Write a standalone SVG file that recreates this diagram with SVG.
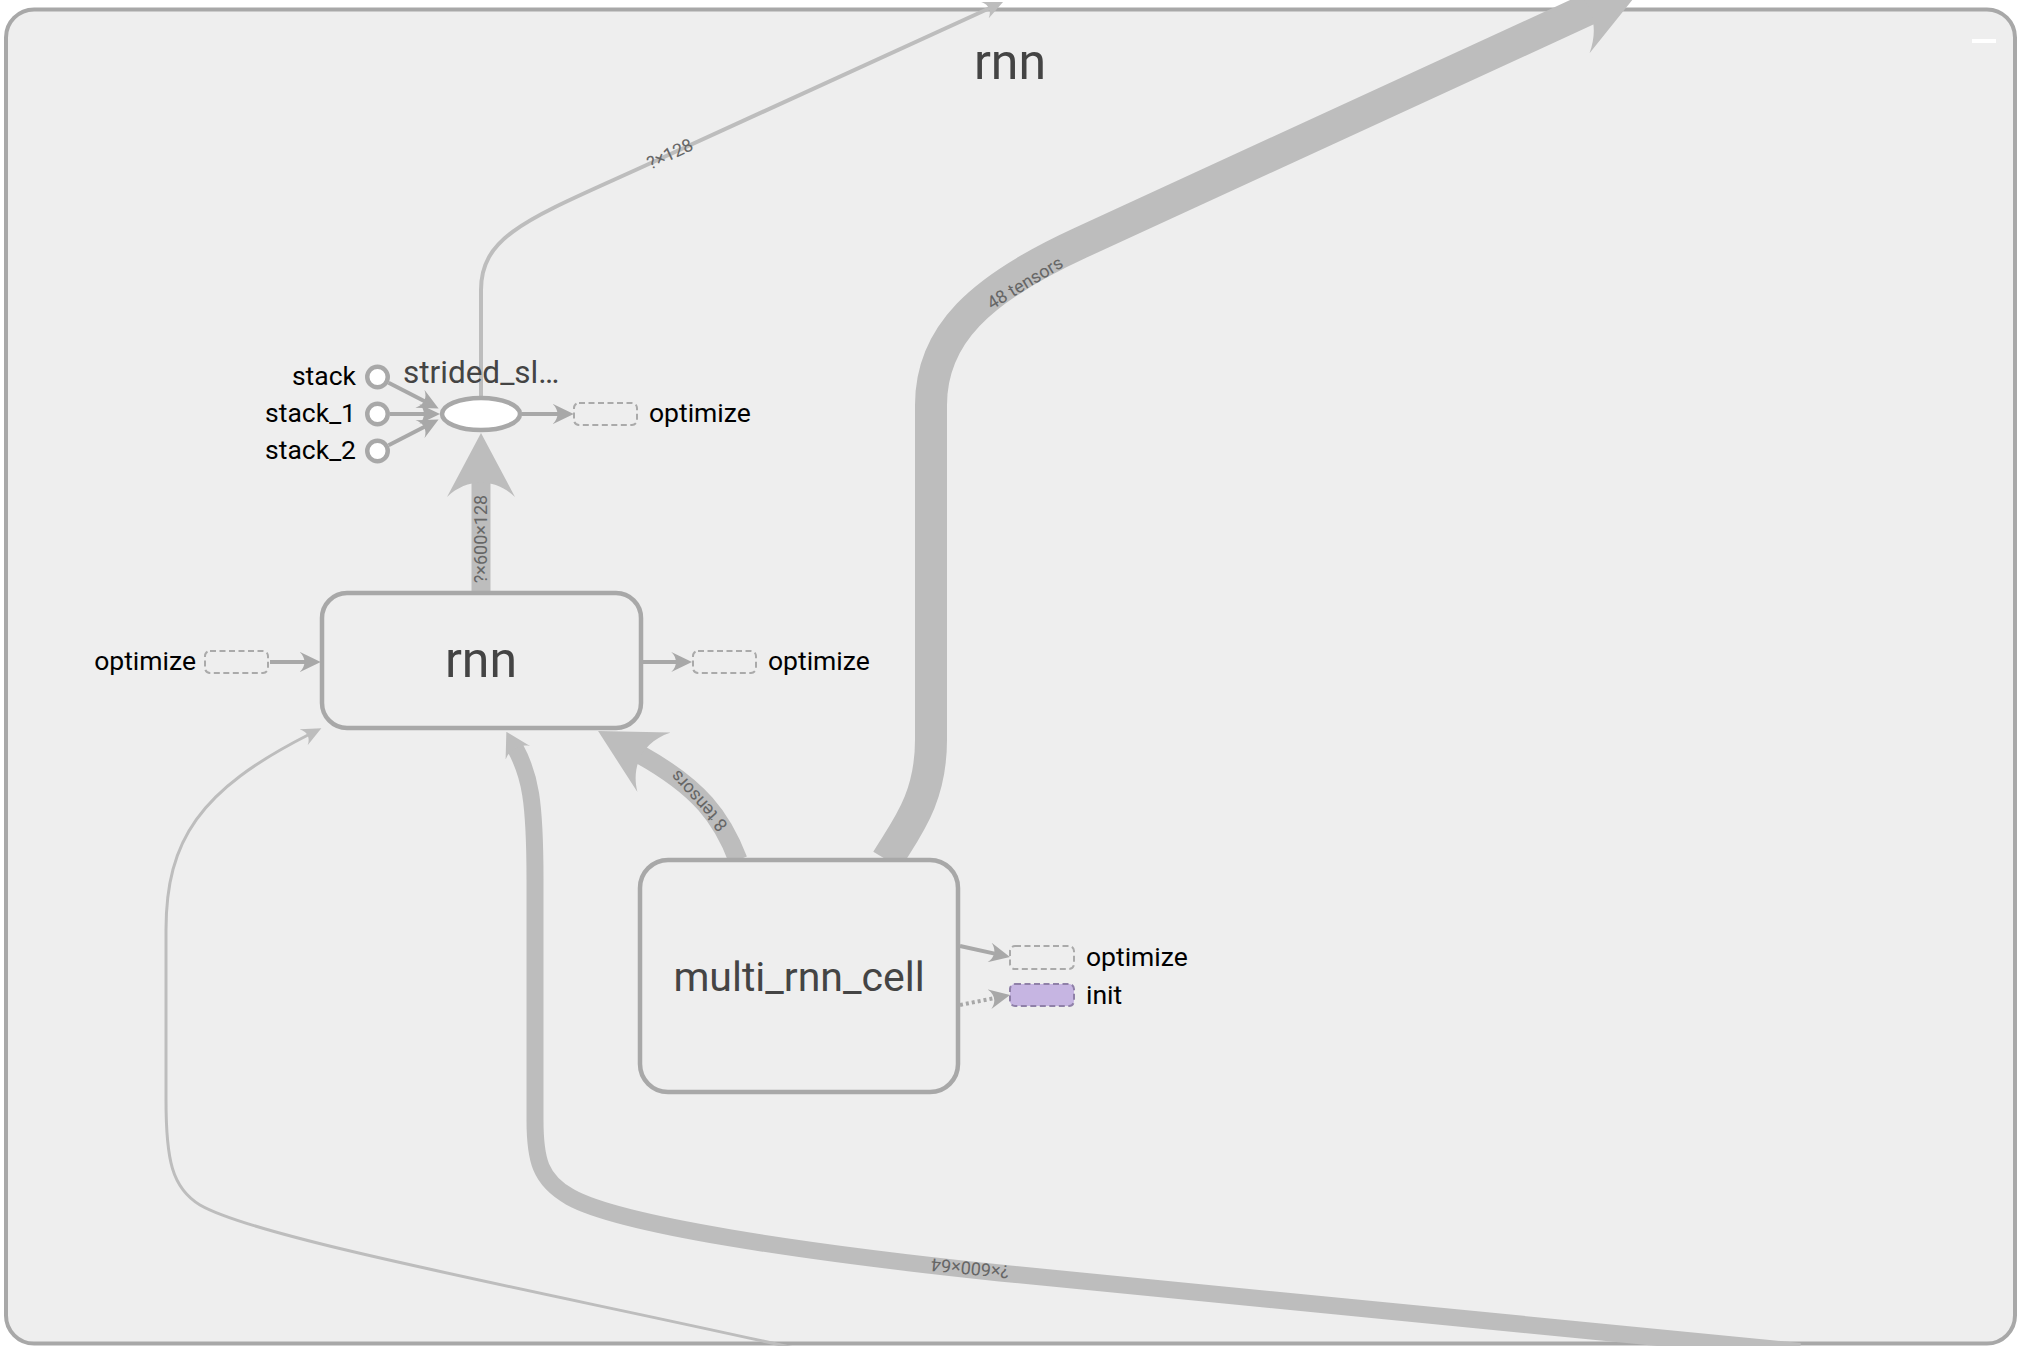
<svg xmlns="http://www.w3.org/2000/svg" width="2020" height="1346" viewBox="0 0 2020 1346">
<defs>
<style>
text { font-family: Roboto, "Liberation Sans", sans-serif; }
.frame { fill:#eeeeee; stroke:#a8a8a8; stroke-width:4; }
.meta { fill:#eeeeee; stroke:#a8a8a8; stroke-width:4.5; }
.title { fill:#444444; text-anchor:middle; }
.ann { font-size:26.5px; fill:#000000; }
.edge { fill:none; stroke:#bdbdbd; }
.annedge { fill:none; stroke:#a8a8a8; stroke-width:4; }
.elabel { font-size:18px; fill:#666666; text-anchor:middle; }
.dash { fill:none; stroke:#aaaaaa; stroke-width:2; stroke-dasharray:6 3.5; }
.init { fill:#c6b5e2; stroke:#8f80a8; stroke-width:2; stroke-dasharray:6 3.5; }
.op { fill:#ffffff; stroke:#a8a8a8; stroke-width:4.5; }
</style>
<marker id="ah-s" viewBox="0 0 10 10" refX="2.5" refY="5" markerUnits="userSpaceOnUse" markerWidth="20" markerHeight="18" preserveAspectRatio="none" orient="auto"><path d="M0,0 L10,5 L0,10 C3,7 3,3 0,0" fill="#bdbdbd"/></marker>
<marker id="ah-a" viewBox="0 0 10 10" refX="2.5" refY="5" markerUnits="userSpaceOnUse" markerWidth="21" markerHeight="20" preserveAspectRatio="none" orient="auto"><path d="M0,0 L10,5 L0,10 C3,7 3,3 0,0" fill="#a8a8a8"/></marker>
<marker id="ah-big" viewBox="0 0 10 10" refX="2.5" refY="5" markerUnits="userSpaceOnUse" markerWidth="64" markerHeight="68" preserveAspectRatio="none" orient="auto"><path d="M0,0 L10,5 L0,10 C3,7 3,3 0,0" fill="#bdbdbd"/></marker>
<marker id="ah-48" viewBox="0 0 10 10" refX="2.5" refY="5" markerUnits="userSpaceOnUse" markerWidth="81" markerHeight="81" preserveAspectRatio="none" orient="auto"><path d="M0,0 L10,5 L0,10 C3,7 3,3 0,0" fill="#bdbdbd"/></marker>
<marker id="ah-64" viewBox="0 0 10 10" refX="2.5" refY="5" markerUnits="userSpaceOnUse" markerWidth="24" markerHeight="28" preserveAspectRatio="none" orient="auto"><path d="M0,0 L10,5 L0,10 C3,7 3,3 0,0" fill="#bdbdbd"/></marker>
</defs>
<rect x="0" y="0" width="2020" height="1346" fill="#ffffff"/>
<g id="rnn-scope">
<rect class="frame" x="6" y="9.5" width="2009" height="1334" rx="28"/>
<text class="title" x="1010" y="79" font-size="50">rnn</text>
<rect x="1972" y="39" width="24" height="4" fill="#ffffff"/>
</g>
<g id="connectors">
<path class="edge" stroke-width="4" d="M481,398 L481,290 C481,235 530,218 640,168 L989.4,8.2" marker-end="url(#ah-s)"/>
<text class="elabel" transform="translate(670,154) rotate(-25)" y="6">?×128</text>
<path class="edge" stroke-width="32" d="M887,860 C905,830 931,800 931,740 L931,405 C931,335 980,289 1080,243 L1591,8" marker-end="url(#ah-48)"/>
<text class="elabel" transform="translate(1025,283) rotate(-31)" y="6">48 tensors</text>
<path class="edge" stroke-width="19" d="M481,591 L481,481" marker-end="url(#ah-big)"/>
<text class="elabel" transform="translate(481,539) rotate(-90)" y="6">?×600×128</text>
<path class="edge" stroke-width="19" d="M738,860 C722,818 700,788 640,754.5" marker-end="url(#ah-big)"/>
<text class="elabel" transform="translate(699,801) rotate(228)" y="6">8 tensors</text>
<path class="edge" stroke-width="17" d="M1800,1351.5 L1000,1273 C800,1252 620,1225 570,1197 C540,1180 535,1160 535,1120 L535,880 C535,800 530,775 515,747.6" marker-end="url(#ah-64)"/>
<text class="elabel" transform="translate(970,1268) rotate(185.6)" y="6">?×600×64</text>
<path class="edge" stroke-width="3" d="M812,1352 C560,1295 260,1240 200,1205 C172,1188 166,1160 166,1100 L166,930 C166,840 200,790 308,735" marker-end="url(#ah-s)"/>
<path class="annedge" d="M388.6,382.7 L424.6,401.2" marker-end="url(#ah-a)"/>
<path class="annedge" d="M390,414 L424.5,414" marker-end="url(#ah-a)"/>
<path class="annedge" d="M388.6,445.3 L424.6,426.8" marker-end="url(#ah-a)"/>
<path class="annedge" d="M522,414 L558,414" marker-end="url(#ah-a)"/>
<path class="annedge" d="M270,662 L305,662" marker-end="url(#ah-a)"/>
<path class="annedge" d="M643,662 L676.5,662" marker-end="url(#ah-a)"/>
<path class="annedge" d="M960,946 L994.6,953.6" marker-end="url(#ah-a)"/>
<path class="annedge" stroke-dasharray="3 3" d="M960,1005 L994.6,998.1" marker-end="url(#ah-a)"/>
</g>
<g id="strided_slice">
<ellipse class="op" cx="481" cy="414" rx="39" ry="16"/>
<text x="403" y="383" font-size="31.5" fill="#444444">strided_sl…</text>
</g>
<g id="stack">
<circle class="op" cx="377.5" cy="377" r="10.25"/>
<text class="ann" x="356" y="385" text-anchor="end">stack</text>
</g>
<g id="stack_1">
<circle class="op" cx="377.5" cy="414" r="10.25"/>
<text class="ann" x="356" y="422" text-anchor="end">stack_1</text>
</g>
<g id="stack_2">
<circle class="op" cx="377.5" cy="451" r="10.25"/>
<text class="ann" x="356" y="459" text-anchor="end">stack_2</text>
</g>
<g id="optimize_out_strided">
<rect class="dash" x="574" y="403" width="63" height="22" rx="5"/>
<text class="ann" x="649" y="422">optimize</text>
</g>
<g id="rnn">
<rect class="meta" x="322" y="593" width="319" height="135" rx="25"/>
<text class="title" x="481" y="677" font-size="50">rnn</text>
</g>
<g id="optimize_in_rnn">
<rect class="dash" x="205" y="651" width="63" height="22" rx="5"/>
<text class="ann" x="196" y="670" text-anchor="end">optimize</text>
</g>
<g id="optimize_out_rnn">
<rect class="dash" x="693" y="651" width="63" height="22" rx="5"/>
<text class="ann" x="768" y="670">optimize</text>
</g>
<g id="multi_rnn_cell">
<rect class="meta" x="640" y="860" width="318" height="232" rx="28"/>
<text class="title" x="799" y="991" font-size="41">multi_rnn_cell</text>
</g>
<g id="optimize_out_cell">
<rect class="dash" x="1010" y="946" width="64" height="23" rx="5"/>
<text class="ann" x="1086" y="966">optimize</text>
</g>
<g id="init">
<rect class="init" x="1010" y="984" width="64" height="22" rx="5"/>
<text class="ann" x="1086" y="1004">init</text>
</g>
</svg>
